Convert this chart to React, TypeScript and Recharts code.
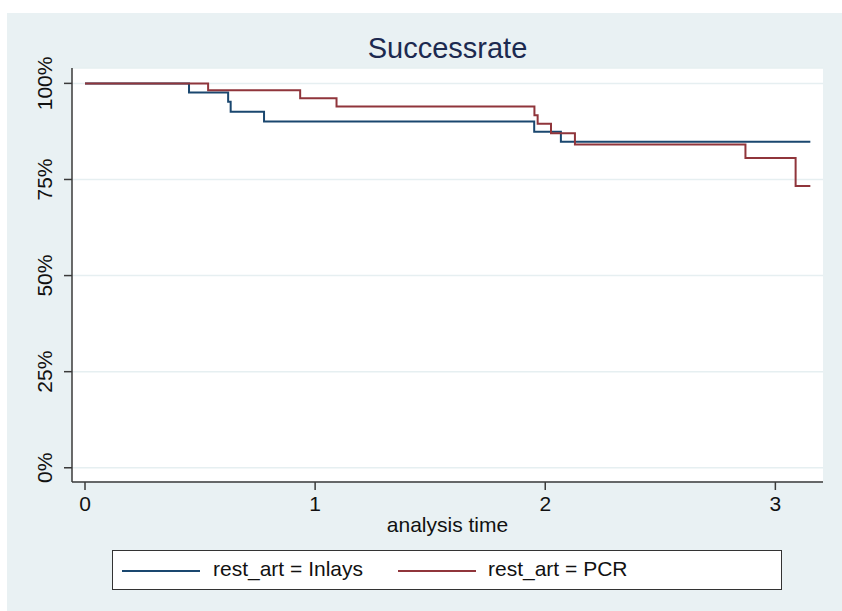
import React from "react"
import { CartesianGrid, Line, LineChart, XAxis, YAxis } from "recharts"

// Kaplan-Meier survival estimates
const inlaysTime = [0, 0.452, 0.622, 0.633, 0.778, 1.952, 2.068, 3.152]
const inlaysSurv = [1, 0.976, 0.952, 0.926, 0.901, 0.874, 0.848, 0.848]

const pcrTime = [0, 0.535, 0.935, 1.093, 1.953, 1.967, 2.025, 2.129, 2.87, 3.088, 3.152]
const pcrSurv = [1, 0.982, 0.961, 0.94, 0.917, 0.895, 0.87, 0.841, 0.806, 0.733, 0.733]

const xTicks = [0, 1, 2, 3]
const yTicks = [0, 0.25, 0.5, 0.75, 1]

const inlays = inlaysTime.map((t, i) => ({ t, s: inlaysSurv[i] }))
const pcr = pcrTime.map((t, i) => ({ t, s: pcrSurv[i] }))

const FONT = '"Liberation Sans", Arial, Helvetica, sans-serif'
const BLUE = "#1a476f"
const RED = "#90353b"
const AXIS = "#3a3a3a"

const YTick = (props: any) => {
  const { x, y, payload } = props
  const cx = x - 19
  return (
    <text
      x={cx}
      y={y}
      transform={`rotate(-90, ${cx}, ${y})`}
      textAnchor="middle"
      dominantBaseline="central"
      fontSize={21}
      fontFamily={FONT}
      fill="#111"
    >
      {Math.round(payload.value * 100)}%
    </text>
  )
}

export default function App() {
  return (
    <div style={{ position: "absolute", left: 0, top: 0, width: 842, height: 611, background: "#fff", fontFamily: FONT }}>
      <div style={{ position: "absolute", left: 7, top: 13, right: 0, bottom: 0, background: "#e9f1f3" }} />
      <div
        style={{
          position: "absolute",
          left: 72,
          width: 751,
          top: 33.5,
          fontSize: 29,
          lineHeight: "29px",
          textAlign: "center",
          color: "#1c2a50",
        }}
      >
        Successrate
      </div>
      <div style={{ position: "absolute", left: 0, top: 0 }}>
        <LineChart width={842} height={611} margin={{ top: 68, right: 19, bottom: 79, left: 12 }}>
          <CartesianGrid horizontal vertical={false} fill="#fff" stroke="#e6eff1" strokeWidth={1.5} />
          <XAxis
            dataKey="t"
            type="number"
            domain={[-0.0565, 3.207]}
            ticks={xTicks}
            allowDataOverflow
            height={50}
            tickSize={8}
            tickMargin={6}
            stroke={AXIS}
            strokeWidth={1.5}
            tick={{ fontSize: 21, fontFamily: FONT, fill: "#111" }}
            label={{ value: "analysis time", position: "insideBottom", offset: 0, fontSize: 21, fontFamily: FONT, fill: "#111" }}
          />
          <YAxis
            type="number"
            domain={[-0.037, 1.04]}
            ticks={yTicks}
            allowDataOverflow
            width={60}
            tickSize={8}
            tickMargin={0}
            stroke={AXIS}
            strokeWidth={1.5}
            tick={<YTick />}
          />
          <Line data={inlays} dataKey="s" type="stepAfter" stroke={BLUE} strokeWidth={2} dot={false} isAnimationActive={false} />
          <Line data={pcr} dataKey="s" type="stepAfter" stroke={RED} strokeWidth={2} dot={false} isAnimationActive={false} />
        </LineChart>
      </div>
      <div
        style={{
          position: "absolute",
          left: 112,
          top: 550,
          width: 668,
          height: 38,
          border: "1px solid #333",
          background: "#fff",
          fontSize: 21,
          color: "#111",
        }}
      >
        <div style={{ position: "absolute", left: 9, top: 18.5, width: 78, height: 2, background: BLUE }} />
        <div style={{ position: "absolute", left: 100, top: 7, lineHeight: "21px", whiteSpace: "nowrap" }}>rest_art = Inlays</div>
        <div style={{ position: "absolute", left: 285, top: 18.5, width: 78, height: 2, background: RED }} />
        <div style={{ position: "absolute", left: 375, top: 7, lineHeight: "21px", whiteSpace: "nowrap" }}>rest_art = PCR</div>
      </div>
    </div>
  )
}
